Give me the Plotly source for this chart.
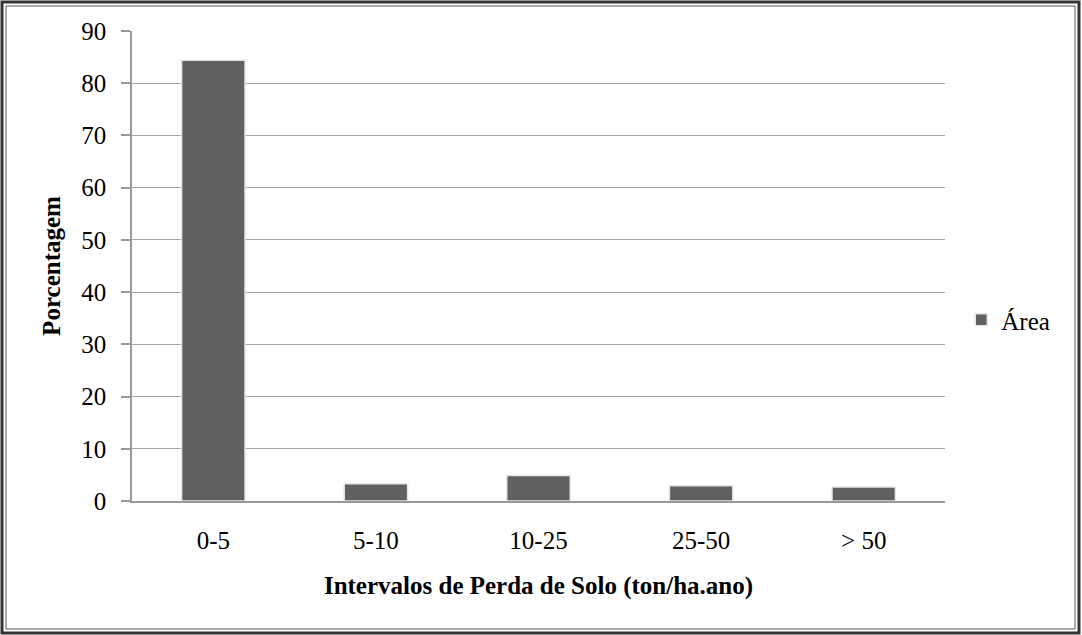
import plotly.graph_objects as go

categories = ["0-5", "5-10", "10-25", "25-50", "> 50"]
area_values = [84.4, 3.3, 4.9, 2.9, 2.7]
y_ticks = [0, 10, 20, 30, 40, 50, 60, 70, 80, 90]

FONT = "Liberation Serif, Times New Roman, serif"
W, H = 1082, 635
l, r, t, b = 132, 137, 31, 134
pw, ph = W - l - r, H - t - b

fig = go.Figure()
fig.add_trace(go.Bar(
    x=categories, y=area_values, name="Área",
    marker=dict(color="#606060", line=dict(color="#e6e6e6", width=1.5)),
    showlegend=True,
))

fig.update_layout(
    width=W, height=H,
    margin=dict(l=l, r=r, t=t, b=b),
    paper_bgcolor="white", plot_bgcolor="white",
    font=dict(family=FONT, size=25, color="black"),
    bargap=0.61,
    showlegend=True,
    legend=dict(x=1.02, y=0.385, xanchor="left", yanchor="middle",
                font=dict(family=FONT, size=25, color="black"),
                itemwidth=30, bgcolor="rgba(0,0,0,0)"),
    xaxis=dict(
        title=dict(text="<b>Intervalos de Perda de Solo (ton/ha.ano)</b>",
                   font=dict(family=FONT, size=25), standoff=24),
        showline=True, linecolor="#999999", linewidth=1.5,
        ticks="", showgrid=False, tickfont=dict(size=25),
        ticklabelstandoff=16,
    ),
    yaxis=dict(
        title=dict(text="<b>Porcentagem</b>", font=dict(family=FONT, size=25), standoff=14),
        range=[0, 90], tickvals=y_ticks,
        showline=True, linecolor="#999999", linewidth=1.5,
        ticks="outside", ticklen=9, tickcolor="#999999", tickwidth=1.5,
        ticklabelstandoff=10,
        showgrid=True, gridcolor="#a6a6a6", gridwidth=1,
        zeroline=False, tickfont=dict(size=25),
    ),
)

def px(x):
    return (x - l) / pw
def py(y):
    return (H - b - y) / ph

fig.add_shape(type="rect", xref="paper", yref="paper",
              x0=px(2), x1=px(1079), y0=py(633), y1=py(2),
              line=dict(color="#333333", width=3), layer="above")
fig.add_shape(type="rect", xref="paper", yref="paper",
              x0=px(6), x1=px(1075), y0=py(629), y1=py(6),
              line=dict(color="#555555", width=1), layer="above")

fig.write_html("out.html",
               config={"displayModeBar": False},
               post_script="document.body.style.margin='0';document.body.style.overflow='hidden';")
